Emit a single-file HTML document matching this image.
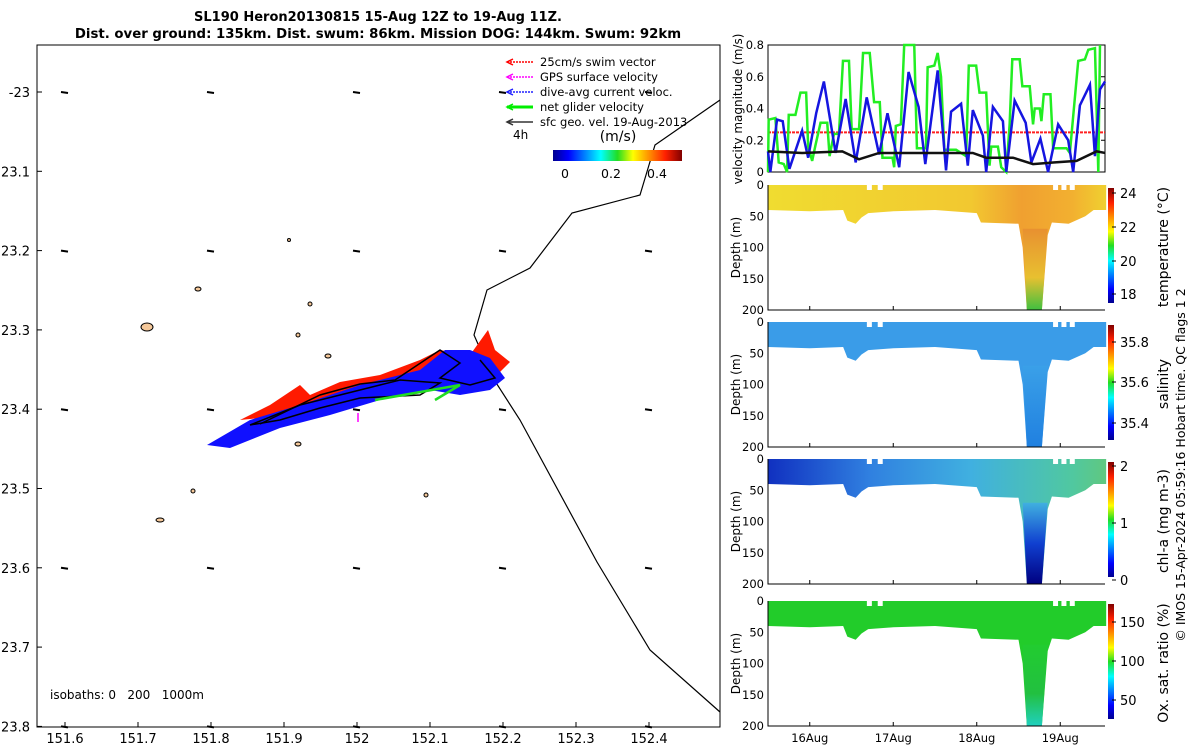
<!DOCTYPE html>
<html><head><meta charset="utf-8"><style>
body{margin:0;background:#fff;width:1200px;height:750px;overflow:hidden;font-family:"Liberation Sans","DejaVu Sans",sans-serif}
svg text{font-family:"DejaVu Sans","Liberation Sans",sans-serif}
</style></head><body>
<svg id="s" width="1200" height="750" xmlns="http://www.w3.org/2000/svg">
<defs>
<linearGradient id="jet" x1="0" x2="1" y1="0" y2="0">
<stop offset="0" stop-color="#00008f"/><stop offset="0.12" stop-color="#0000ff"/><stop offset="0.37" stop-color="#00ffff"/><stop offset="0.5" stop-color="#22dd22"/><stop offset="0.62" stop-color="#ffff00"/><stop offset="0.87" stop-color="#ff2000"/><stop offset="1" stop-color="#800000"/></linearGradient>
<linearGradient id="jetv" x1="0" x2="0" y1="1" y2="0">
<stop offset="0" stop-color="#00008f"/><stop offset="0.12" stop-color="#0000ff"/><stop offset="0.37" stop-color="#00ffff"/><stop offset="0.5" stop-color="#22dd22"/><stop offset="0.62" stop-color="#ffff00"/><stop offset="0.87" stop-color="#ff2000"/><stop offset="1" stop-color="#800000"/></linearGradient>
<linearGradient id="gT" x1="0" x2="1"><stop offset="0" stop-color="#f0dc30"/><stop offset="0.6" stop-color="#f2c830"/><stop offset="0.75" stop-color="#f0a030"/><stop offset="0.9" stop-color="#f2b030"/><stop offset="1" stop-color="#f0d030"/></linearGradient>
<linearGradient id="pT" x1="0" x2="0" y1="0" y2="1"><stop offset="0" stop-color="#e89030"/><stop offset="0.6" stop-color="#e8c030"/><stop offset="1" stop-color="#40c040"/></linearGradient>
<linearGradient id="pS" x1="0" x2="0" y1="0" y2="1"><stop offset="0" stop-color="#3aa0e8"/><stop offset="1" stop-color="#2080e0"/></linearGradient>
<linearGradient id="gC" x1="0" x2="1"><stop offset="0" stop-color="#1030c0"/><stop offset="0.3" stop-color="#3080e0"/><stop offset="0.6" stop-color="#40b0e0"/><stop offset="0.9" stop-color="#50c8a0"/><stop offset="1" stop-color="#60c880"/></linearGradient>
<linearGradient id="pC" x1="0" x2="0" y1="0" y2="1"><stop offset="0" stop-color="#40b0e0"/><stop offset="0.5" stop-color="#1040d0"/><stop offset="1" stop-color="#000080"/></linearGradient>
<linearGradient id="pO" x1="0" x2="0" y1="0" y2="1"><stop offset="0" stop-color="#22cc30"/><stop offset="0.6" stop-color="#22c040"/><stop offset="1" stop-color="#20d0c0"/></linearGradient>
</defs>
<g id="map"></g>
<g id="right"></g>
</svg>
<script>
const S=document.getElementById('s'),NS='http://www.w3.org/2000/svg';
function el(p,t,a,txt){const e=document.createElementNS(NS,t);for(const k in a)e.setAttribute(k,a[k]);if(txt!==undefined)e.textContent=txt;p.appendChild(e);return e;}
const map=document.getElementById('map'),R=document.getElementById('right');

// ---- data ----
const mapLonTicks=[151.6,151.7,151.8,151.9,152,152.1,152.2,152.3,152.4];
const mapLatTicks=[-23,23.1,23.2,23.3,23.4,23.5,23.6,23.7,23.8];
const dayTicks=[16,17,18,19];
const dayLabels=['16Aug','17Aug','18Aug','19Aug'];
const velTicks=[0,0.2,0.4,0.6,0.8];
const blueZX=[148,155,175,192,212,250,268,292,315,350,380,410,443,480,505,540,568,598,618,655,680,695,725,745,760,790,800,820,850,860,885,918,935,962,985,1015,1045,1060,1080,1110,1125,1140,1155];
const blueV=[0.13,0,0.33,0.32,0.02,0.26,0.09,0.37,0.57,0.12,0.46,0.06,0.47,0.11,0.37,0.03,0.63,0.41,0.05,0.64,0.01,0.38,0.43,0.04,0.39,0.23,0,0.41,0.32,0,0.45,0.31,0.06,0.21,0,0.3,0.2,0,0.42,0.55,0.1,0.52,0.57];
const greenZX=[148,150,170,180,195,205,210,230,245,262,268,280,290,305,325,332,345,360,372,390,398,420,432,452,465,482,490,520,525,530,545,555,585,593,620,625,645,655,665,675,710,740,748,770,780,800,810,815,835,845,860,870,878,900,908,930,940,945,960,965,972,992,1000,1040,1050,1075,1095,1105,1125,1135,1140];
const greenV=[0,0.33,0.34,0.06,0.05,0,0.36,0.36,0.5,0.5,0.16,0.07,0.17,0.31,0.31,0.1,0.24,0.24,0.7,0.7,0.27,0.27,0.75,0.75,0.44,0.44,0.09,0.09,0.03,0.29,0.3,0.8,0.8,0.15,0.15,0.66,0.67,0.75,0.6,0.14,0.14,0.1,0.67,0.67,0.5,0.5,0.04,0.16,0.16,0.03,0,0.3,0.71,0.71,0.54,0.54,0.3,0.4,0.4,0.32,0.49,0.49,0.15,0.15,0.12,0.7,0.71,0.77,0.78,0,0.8];
const blackZX=[148,250,370,420,480,620,760,800,880,940,1000,1070,1130,1155];
const blackV=[0.13,0.12,0.13,0.08,0.12,0.12,0.12,0.09,0.09,0.05,0.06,0.07,0.13,0.12];
const swimV=0.25;
const shapeDay=[15.5,16.0,16.4,16.45,16.55,16.62,16.7,17.0,17.5,18.0,18.05,18.5,18.55,18.6,18.78,18.85,18.9,19.1,19.3,19.4,19.55];
const shapeDepth=[40,42,40,57,62,52,45,42,40,45,60,62,100,200,200,80,60,62,50,40,40];
const plumeDay=[18.55,18.6,18.78,18.85];
const plumeDepth=[70,200,200,70];

// ---- map ----
const mx=l=>65+(l-151.6)*730, my=l=>92+(l-23)*793;
el(map,'rect',{x:37,y:45,width:683,height:682,fill:'none',stroke:'#000','stroke-width':1});
mapLonTicks.forEach(v=>{const x=mx(v);el(map,'line',{x1:x,x2:x,y1:727,y2:722,stroke:'#000'});
const t=el(map,'text',{x:x,y:743,'font-size':13,'text-anchor':'middle'},String(v));});
mapLatTicks.forEach(v=>{const y=my(Math.abs(v));el(map,'line',{x1:37,x2:42,y1:y,y2:y,stroke:'#000'});
const t=el(map,'text',{x:30,y:y+5,'font-size':13,'text-anchor':'end'},String(v));});
[151.6,151.8,152,152.2,152.4].forEach(lo=>[23,23.2,23.4,23.6,23.8].forEach(la=>{const x=mx(lo),y=my(la);el(map,'line',{x1:x-4,y1:y,x2:x+3,y2:y+1,stroke:'#000','stroke-width':2});}));
[[147,327,6,4],[198,289,3,2],[310,304,2,2],[298,335,2,2],[328,356,3,2],[298,444,3,2],[160,520,4,2],[193,491,2,2],[426,495,2,2],[289,240,1.5,1.5]].forEach(r=>el(map,'ellipse',{cx:r[0],cy:r[1],rx:r[2],ry:r[3],fill:'#f5c89a',stroke:'#000','stroke-width':1}));
el(map,'polyline',{points:'720,100 655,145 640,195 572,213 530,268 487,290 474,335 493,378 520,420 597,562 650,650 720,712',fill:'none',stroke:'#000','stroke-width':1.2});
el(map,'polygon',{points:'240,420 270,405 300,385 310,395 340,382 380,375 420,360 440,350 470,355 488,330 495,350 510,362 500,372 470,382 445,380 400,378 320,400 260,418',fill:'#ff1a00'});
el(map,'polygon',{points:'207,445 250,420 300,405 360,385 420,370 445,350 470,350 490,358 505,378 490,390 460,395 430,390 380,400 330,415 280,428 230,448',fill:'#1010ff'});
el(map,'polyline',{points:'250,425 300,405 340,395 380,385 400,380 440,383 420,395 360,398 320,408 280,420 250,425',fill:'none',stroke:'#000','stroke-width':1.5});
el(map,'polyline',{points:'260,424 320,395 360,384 395,380 440,350 460,363 440,378 470,385 495,378 480,360',fill:'none',stroke:'#000','stroke-width':1.5});
el(map,'polyline',{points:'375,400 460,385 435,400',fill:'none',stroke:'#22dd22','stroke-width':2.5});
el(map,'line',{x1:358,y1:413,x2:358,y2:422,stroke:'#ff00ff','stroke-width':1.5});
const leg=[['#ff0000','25cm/s swim vector'],['#ff00ff','GPS surface velocity'],['#2020ff','dive-avg current veloc.'],['#00ee00','net glider velocity'],['#333','sfc geo. vel. 19-Aug-2013']];
leg.forEach((l,i)=>{const y=62+i*15;const g=el(map,'g',{});
el(g,'line',{x1:507,x2:533,y1:y,y2:y,stroke:l[0],'stroke-width':i==3?3:1.5,'stroke-dasharray':i<3?'2,1':''});
el(g,'polyline',{points:`513,${y-3} 507,${y} 513,${y+3}`,fill:'none',stroke:l[0],'stroke-width':1.5});
el(g,'text',{x:540,y:y+4,'font-size':11.5},l[1]);});
el(map,'text',{x:513,y:139,'font-size':12},'4h');
el(map,'text',{x:618,y:141,'font-size':14,'text-anchor':'middle'},'(m/s)');
el(map,'rect',{x:553,y:150,width:129,height:11,fill:'url(#jet)'});
[[0,565],[0.2,611],[0.4,657]].forEach(t=>el(map,'text',{x:t[1],y:178,'font-size':12.5,'text-anchor':'middle'},String(t[0])));
el(map,'text',{x:50,y:699,'font-size':12,'xml:space':'preserve',style:'white-space:pre'},'isobaths: 0   200   1000m');
el(S,'text',{x:378,y:21,'font-size':13,'font-weight':'bold','text-anchor':'middle'},'SL190 Heron20130815 15-Aug 12Z to 19-Aug 11Z.');
el(S,'text',{x:378,y:38,'font-size':13.3,'font-weight':'bold','text-anchor':'middle'},'Dist. over ground: 135km. Dist. swum: 86km. Mission DOG: 144km. Swum: 92km');

// ---- right panels ----
const L=768,Rr=1105,xs=d=>L+(d-15.5)*83.5,zx=z=>L+(z-148)*(Rr-L)/1007;
const vy=v=>172-v*158.75;
el(R,'rect',{x:L,y:45,width:Rr-L,height:127,fill:'none',stroke:'#000'});
velTicks.forEach(v=>{el(R,'text',{x:764,y:vy(v)+4,'font-size':11.5,'text-anchor':'end'},String(v));el(R,'line',{x1:Rr,x2:Rr-4,y1:vy(v),y2:vy(v),stroke:'#000'});});
el(R,'text',{x:0,y:0,'font-size':12,'text-anchor':'middle',transform:'translate(742,109) rotate(-90)'},'velocity magnitude (m/s)');
el(R,'line',{x1:L,x2:Rr,y1:vy(swimV),y2:vy(swimV),stroke:'#ff2020','stroke-width':2,'stroke-dasharray':'3,1'});
function line(zs,vs,c,w,n){const p=el(R,'polyline',{points:zs.map((z,i)=>zx(z)+','+vy(vs[i])).join(' '),fill:'none',stroke:c,'stroke-width':w});}
line(greenZX,greenV,'#22ee22',2.5,'net-glider-velocity-line');
line(blueZX,blueV,'#1515e0',2.5,'dive-avg-current-line');
line(blackZX,blackV,'#111',2.5,'surface-geo-velocity-line');
const panels=[
{top:185,fill:'url(#gT)',plume:'url(#pT)',cb:[[24,193],[22,227],[20,261],[18,294]],lab:'temperature (°C)',n:'temperature'},
{top:322,fill:'#3a9ce8',plume:'url(#pS)',cb:[[35.8,342],[35.6,382],[35.4,423]],lab:'salinity',n:'salinity'},
{top:459,fill:'url(#gC)',plume:'url(#pC)',cb:[[2,466],[1,523],[0,580]],lab:'chl-a (mg m-3)',n:'chlorophyll'},
{top:601,fill:'#22cc2a',plume:'url(#pO)',cb:[[150,622],[100,661],[50,700]],lab:'Ox. sat. ratio (%)',n:'oxygen'}];
panels.forEach(P=>{const g=el(R,'g',{});
const dy=d=>P.top+d*0.625;
let pts=shapeDay.map((d,i)=>xs(d)+','+dy(shapeDepth[i]));
pts.push(xs(19.55)+','+dy(0),xs(15.5)+','+dy(0));
el(g,'polygon',{points:pts.reverse().join(' '),fill:P.fill});
el(g,'polygon',{points:plumeDay.map((d,i)=>xs(d)+','+dy(plumeDepth[i])).join(' '),fill:P.plume});
[16.72,16.85,18.95,19.05,19.15].forEach(d=>el(g,'rect',{x:xs(d)-3,y:dy(0)-1,width:5,height:6,fill:'#fff'}));
el(g,'polyline',{points:`${L},${dy(0)} ${L},${dy(200)} ${Rr},${dy(200)}`,fill:'none',stroke:'#000'});
[0,50,100,150,200].forEach(v=>el(g,'text',{x:764,y:dy(v)+4,'font-size':11.5,'text-anchor':'end'},String(v)));
el(g,'text',{x:0,y:0,'font-size':12,'text-anchor':'middle',transform:`translate(740,${dy(100)}) rotate(-90)`},'Depth (m)');
dayTicks.forEach(d=>el(g,'line',{x1:xs(d),x2:xs(d),y1:dy(200),y2:dy(200)-4,stroke:'#000'}));
const c0=P.top+3,c1=P.top+118;
el(g,'rect',{x:1108,y:c0,width:6,height:c1-c0,fill:'url(#jetv)'});
P.cb.forEach(t=>{el(g,'text',{x:1120,y:t[1]+5,'font-size':13},String(t[0]));el(g,'line',{x1:1112,x2:1116,y1:t[1],y2:t[1],stroke:'#000'});});
el(g,'text',{x:0,y:0,'font-size':14,'text-anchor':'middle',transform:`translate(1168,${P.top+62}) rotate(-90)`},P.lab);
});
dayTicks.forEach((d,i)=>{const t=el(R,'text',{x:xs(d),y:742,'font-size':11.5,'text-anchor':'middle'},dayLabels[i]);});
el(R,'text',{x:0,y:0,'font-size':12.5,'text-anchor':'middle',transform:'translate(1185,465) rotate(-90)'},'© IMOS 15-Apr-2024 05:59:16 Hobart time. QC flags 1  2');
</script>
</body></html>
